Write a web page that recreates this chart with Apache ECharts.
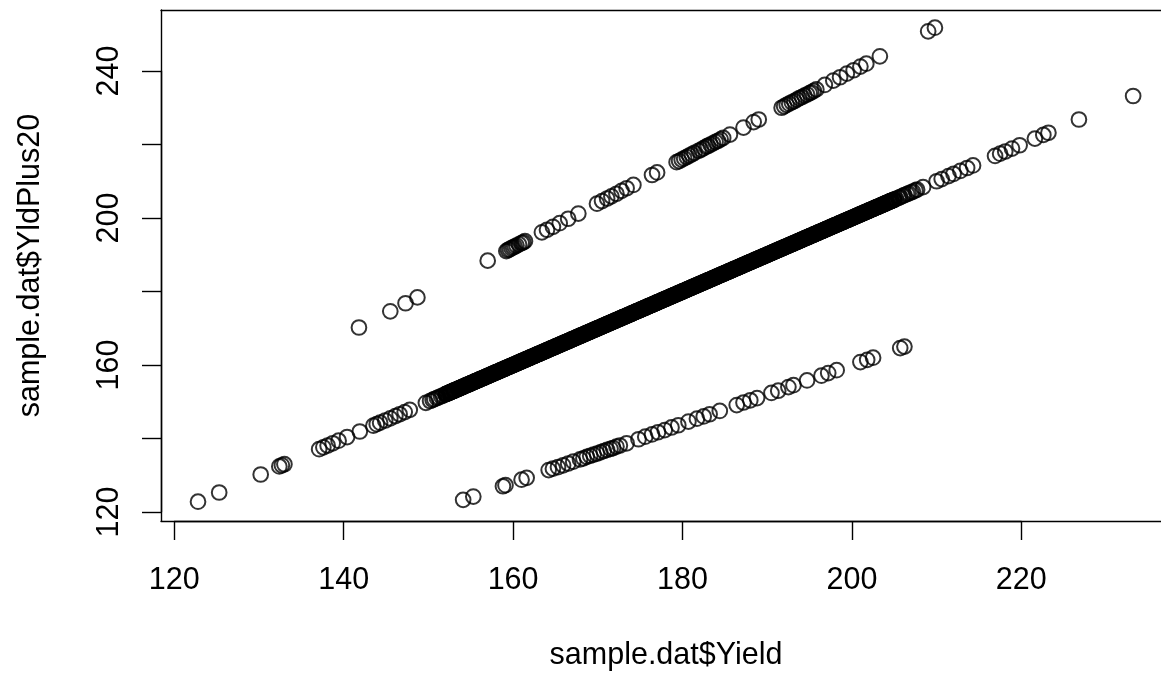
<!DOCTYPE html>
<html>
<head>
<meta charset="utf-8">
<script src="https://cdn.jsdelivr.net/npm/echarts@6/dist/echarts.min.js"></script>
<style>
html,body{margin:0;padding:0;background:#fff;}
#chart{width:1161px;height:676px;}
</style>
</head>
<body>
<div id="chart"></div>
<script>
// Upper band
const upperYield = [141.8,145.5,147.3,148.7,157.0,159.2,159.4,159.6,159.8,160.0,160.2,160.4,160.7,161.0,161.2,161.4,163.4,164.0,164.7,165.5,166.5,167.7,169.9,170.5,171.1,171.6,172.2,172.8,173.4,174.2,176.4,177.0,179.3,179.6,179.9,180.2,180.5,180.8,181.1,181.4,181.9,182.2,182.5,182.8,183.0,183.3,183.6,183.9,184.2,184.5,184.8,185.6,187.2,188.4,189.0,191.7,192.0,192.3,192.6,192.9,193.2,193.5,193.8,194.1,194.4,194.7,195.0,195.2,195.5,195.8,196.8,197.8,198.6,199.4,200.2,201.0,201.7,203.3,209.0,209.8];
const upperYldPlus20 = [170.2,174.6,176.8,178.4,188.4,191.0,191.3,191.5,191.8,192.0,192.2,192.5,192.8,193.2,193.4,193.7,196.1,196.8,197.6,198.6,199.8,201.2,203.9,204.6,205.3,205.9,206.6,207.4,208.1,209.0,211.7,212.4,215.2,215.5,215.9,216.2,216.6,217.0,217.3,217.7,218.3,218.6,219.0,219.4,219.6,220.0,220.3,220.7,221.0,221.4,221.8,222.7,224.6,226.1,226.8,230.0,230.4,230.8,231.1,231.5,231.8,232.2,232.6,232.9,233.3,233.6,234.0,234.2,234.6,235.0,236.2,237.4,238.3,239.3,240.2,241.2,242.0,244.0,250.8,251.8];

// Lower band
const lowerYield = [154.1,155.3,158.8,159.1,161.0,161.6,164.2,164.7,165.3,165.9,166.5,167.1,167.9,168.3,168.7,169.1,169.5,169.9,170.3,170.7,171.1,171.5,171.8,172.2,172.6,173.4,174.8,175.6,176.4,177.1,177.9,178.7,179.5,180.7,181.7,182.5,183.2,184.4,186.4,187.2,188.0,188.8,190.5,191.3,192.5,193.1,194.7,196.4,197.2,198.2,201.0,201.8,202.5,205.7,206.2];
const lowerYldPlus20 = [123.3,124.2,127.0,127.3,128.8,129.3,131.4,131.8,132.2,132.7,133.2,133.7,134.3,134.6,135.0,135.3,135.6,135.9,136.2,136.6,136.9,137.2,137.4,137.8,138.1,138.7,139.8,140.5,141.1,141.7,142.3,143.0,143.6,144.6,145.4,146.0,146.6,147.5,149.1,149.8,150.4,151.0,152.4,153.0,154.0,154.5,155.8,157.1,157.8,158.6,160.8,161.4,162.0,164.6,165.0];

// Middle band: sparse ends and first pass of the dense run
const midYield = [122.8,125.3,130.2,132.4,132.7,133.0,137.1,137.6,138.1,138.7,139.4,140.4,141.9,143.5,143.9,144.3,144.9,145.5,146.1,146.6,147.2,147.8,149.7,
150.2,150.5,150.7,151,151.2,151.5,151.7,
152,152.1,152.2,152.4,152.5,152.6,152.7,152.9,153,153.1,153.2,153.4,153.5,153.6,153.7,153.9,
154,154.1,154.2,154.4,154.5,154.6,154.7,154.9,155,155.1,155.2,155.4,155.5,155.6,155.7,155.9,
156,156.1,156.2,156.4,156.5,156.6,156.7,156.9,157,157.1,157.2,157.4,157.5,157.6,157.7,157.9,
158,158.1,158.2,158.4,158.5,158.6,158.7,158.9,159,159.1,159.2,159.4,159.5,159.6,159.7,159.9,
160,160.1,160.2,160.4,160.5,160.6,160.7,160.9,161,161.1,161.2,161.4,161.5,161.6,161.7,161.9,
162,162.1,162.2,162.4,162.5,162.6,162.7,162.9,163,163.1,163.2,163.4,163.5,163.6,163.7,163.9,
164,164.1,164.2,164.4,164.5,164.6,164.7,164.9,165,165.1,165.2,165.4,165.5,165.6,165.7,165.9,
166,166.1,166.2,166.4,166.5,166.6,166.7,166.9,167,167.1,167.2,167.4,167.5,167.6,167.7,167.9,
168,168.1,168.2,168.4,168.5,168.6,168.7,168.9,169,169.1,169.2,169.4,169.5,169.6,169.7,169.9,
170,170.1,170.2,170.4,170.5,170.6,170.7,170.9,171,171.1,171.2,171.4,171.5,171.6,171.7,171.9,
172,172.1,172.2,172.4,172.5,172.6,172.7,172.9,173,173.1,173.2,173.4,173.5,173.6,173.7,173.9,
174,174.1,174.2,174.4,174.5,174.6,174.7,174.9,175,175.1,175.2,175.4,175.5,175.6,175.7,175.9,
176,176.1,176.2,176.4,176.5,176.6,176.7,176.9,177,177.1,177.2,177.4,177.5,177.6,177.7,177.9,
178,178.1,178.2,178.4,178.5,178.6,178.7,178.9,179,179.1,179.2,179.4,179.5,179.6,179.7,179.9,
180,180.1,180.2,180.4,180.5,180.6,180.7,180.9,181,181.1,181.2,181.4,181.5,181.6,181.7,181.9,
182,182.1,182.2,182.4,182.5,182.6,182.7,182.9,183,183.1,183.2,183.4,183.5,183.6,183.7,183.9,
184,184.1,184.2,184.4,184.5,184.6,184.7,184.9,185,185.1,185.2,185.4,185.5,185.6,185.7,185.9,
186,186.1,186.2,186.4,186.5,186.6,186.7,186.9,187,187.1,187.2,187.4,187.5,187.6,187.7,187.9,
188,188.1,188.2,188.4,188.5,188.6,188.7,188.9,189,189.1,189.2,189.4,189.5,189.6,189.7,189.9,
190,190.1,190.2,190.4,190.5,190.6,190.7,190.9,191,191.1,191.2,191.4,191.5,191.6,191.7,191.9,
192,192.1,192.2,192.4,192.5,192.6,192.7,192.9,193,193.1,193.2,193.4,193.5,193.6,193.7,193.9,
194,194.1,194.2,194.4,194.5,194.6,194.7,194.9,195,195.1,195.2,195.4,195.5,195.6,195.7,195.9,
196,196.1,196.2,196.4,196.5,196.6,196.7,196.9,197,197.1,197.2,197.4,197.5,197.6,197.7,197.9,
198,198.1,198.2,198.4,198.5,198.6,198.7,198.9,199,199.1,199.2,199.4,199.5,199.6,199.7,199.9,
200,200.1,200.2,200.4,200.5,200.6,200.7,200.9,201,201.1,201.2,201.4,201.5,201.6,201.7,201.9,
202,202.1,202.2,202.4,202.5,202.6,202.7,202.9,203,203.1,203.2,203.4,203.5,203.6,203.7,203.9,
204,204.1,204.2,204.4,204.5,204.6,204.7,204.9,
205,205.2,205.5,205.7,206,206.2,206.5,206.7,207,207.2,207.5,207.7,
208.4,210.0,210.6,211.4,212.0,212.8,213.6,214.3,216.9,217.5,218.1,218.9,219.8,221.6,222.6,223.2,226.8,233.2];
const midYldPlus20 = [122.8,125.3,130.2,132.4,132.7,133.0,137.1,137.6,138.1,138.7,139.4,140.4,141.9,143.5,143.9,144.3,144.9,145.5,146.1,146.6,147.2,147.8,149.7,
150.2,150.5,150.7,151,151.2,151.5,151.7,
152,152.1,152.2,152.4,152.5,152.6,152.7,152.9,153,153.1,153.2,153.4,153.5,153.6,153.7,153.9,
154,154.1,154.2,154.4,154.5,154.6,154.7,154.9,155,155.1,155.2,155.4,155.5,155.6,155.7,155.9,
156,156.1,156.2,156.4,156.5,156.6,156.7,156.9,157,157.1,157.2,157.4,157.5,157.6,157.7,157.9,
158,158.1,158.2,158.4,158.5,158.6,158.7,158.9,159,159.1,159.2,159.4,159.5,159.6,159.7,159.9,
160,160.1,160.2,160.4,160.5,160.6,160.7,160.9,161,161.1,161.2,161.4,161.5,161.6,161.7,161.9,
162,162.1,162.2,162.4,162.5,162.6,162.7,162.9,163,163.1,163.2,163.4,163.5,163.6,163.7,163.9,
164,164.1,164.2,164.4,164.5,164.6,164.7,164.9,165,165.1,165.2,165.4,165.5,165.6,165.7,165.9,
166,166.1,166.2,166.4,166.5,166.6,166.7,166.9,167,167.1,167.2,167.4,167.5,167.6,167.7,167.9,
168,168.1,168.2,168.4,168.5,168.6,168.7,168.9,169,169.1,169.2,169.4,169.5,169.6,169.7,169.9,
170,170.1,170.2,170.4,170.5,170.6,170.7,170.9,171,171.1,171.2,171.4,171.5,171.6,171.7,171.9,
172,172.1,172.2,172.4,172.5,172.6,172.7,172.9,173,173.1,173.2,173.4,173.5,173.6,173.7,173.9,
174,174.1,174.2,174.4,174.5,174.6,174.7,174.9,175,175.1,175.2,175.4,175.5,175.6,175.7,175.9,
176,176.1,176.2,176.4,176.5,176.6,176.7,176.9,177,177.1,177.2,177.4,177.5,177.6,177.7,177.9,
178,178.1,178.2,178.4,178.5,178.6,178.7,178.9,179,179.1,179.2,179.4,179.5,179.6,179.7,179.9,
180,180.1,180.2,180.4,180.5,180.6,180.7,180.9,181,181.1,181.2,181.4,181.5,181.6,181.7,181.9,
182,182.1,182.2,182.4,182.5,182.6,182.7,182.9,183,183.1,183.2,183.4,183.5,183.6,183.7,183.9,
184,184.1,184.2,184.4,184.5,184.6,184.7,184.9,185,185.1,185.2,185.4,185.5,185.6,185.7,185.9,
186,186.1,186.2,186.4,186.5,186.6,186.7,186.9,187,187.1,187.2,187.4,187.5,187.6,187.7,187.9,
188,188.1,188.2,188.4,188.5,188.6,188.7,188.9,189,189.1,189.2,189.4,189.5,189.6,189.7,189.9,
190,190.1,190.2,190.4,190.5,190.6,190.7,190.9,191,191.1,191.2,191.4,191.5,191.6,191.7,191.9,
192,192.1,192.2,192.4,192.5,192.6,192.7,192.9,193,193.1,193.2,193.4,193.5,193.6,193.7,193.9,
194,194.1,194.2,194.4,194.5,194.6,194.7,194.9,195,195.1,195.2,195.4,195.5,195.6,195.7,195.9,
196,196.1,196.2,196.4,196.5,196.6,196.7,196.9,197,197.1,197.2,197.4,197.5,197.6,197.7,197.9,
198,198.1,198.2,198.4,198.5,198.6,198.7,198.9,199,199.1,199.2,199.4,199.5,199.6,199.7,199.9,
200,200.1,200.2,200.4,200.5,200.6,200.7,200.9,201,201.1,201.2,201.4,201.5,201.6,201.7,201.9,
202,202.1,202.2,202.4,202.5,202.6,202.7,202.9,203,203.1,203.2,203.4,203.5,203.6,203.7,203.9,
204,204.1,204.2,204.4,204.5,204.6,204.7,204.9,
205,205.2,205.5,205.7,206,206.2,206.5,206.7,207,207.2,207.5,207.7,
208.4,210.0,210.6,211.4,212.0,212.8,213.6,214.3,216.9,217.5,218.1,218.9,219.8,221.6,222.6,223.2,226.8,233.2];

// Middle band: further points inside the solid run
const midDenseYield = [
152.05,152.3,152.45,152.65,152.8,152.95,153.05,153.3,153.45,153.65,153.8,153.95,
154.05,154.3,154.45,154.65,154.8,154.95,155.05,155.3,155.45,155.65,155.8,155.95,
156.05,156.3,156.45,156.65,156.8,156.95,157.05,157.3,157.45,157.65,157.8,157.95,
158.05,158.3,158.45,158.65,158.8,158.95,159.05,159.3,159.45,159.65,159.8,159.95,
160.05,160.3,160.45,160.65,160.8,160.95,161.05,161.3,161.45,161.65,161.8,161.95,
162.05,162.3,162.45,162.65,162.8,162.95,163.05,163.3,163.45,163.65,163.8,163.95,
164.05,164.3,164.45,164.65,164.8,164.95,165.05,165.3,165.45,165.65,165.8,165.95,
166.05,166.3,166.45,166.65,166.8,166.95,167.05,167.3,167.45,167.65,167.8,167.95,
168.05,168.3,168.45,168.65,168.8,168.95,169.05,169.3,169.45,169.65,169.8,169.95,
170.05,170.3,170.45,170.65,170.8,170.95,171.05,171.3,171.45,171.65,171.8,171.95,
172.05,172.3,172.45,172.65,172.8,172.95,173.05,173.3,173.45,173.65,173.8,173.95,
174.05,174.3,174.45,174.65,174.8,174.95,175.05,175.3,175.45,175.65,175.8,175.95,
176.05,176.3,176.45,176.65,176.8,176.95,177.05,177.3,177.45,177.65,177.8,177.95,
178.05,178.3,178.45,178.65,178.8,178.95,179.05,179.3,179.45,179.65,179.8,179.95,
180.05,180.3,180.45,180.65,180.8,180.95,181.05,181.3,181.45,181.65,181.8,181.95,
182.05,182.3,182.45,182.65,182.8,182.95,183.05,183.3,183.45,183.65,183.8,183.95,
184.05,184.3,184.45,184.65,184.8,184.95,185.05,185.3,185.45,185.65,185.8,185.95,
186.05,186.3,186.45,186.65,186.8,186.95,187.05,187.3,187.45,187.65,187.8,187.95,
188.05,188.3,188.45,188.65,188.8,188.95,189.05,189.3,189.45,189.65,189.8,189.95,
190.05,190.3,190.45,190.65,190.8,190.95,191.05,191.3,191.45,191.65,191.8,191.95,
192.05,192.3,192.45,192.65,192.8,192.95,193.05,193.3,193.45,193.65,193.8,193.95,
194.05,194.3,194.45,194.65,194.8,194.95,195.05,195.3,195.45,195.65,195.8,195.95,
196.05,196.3,196.45,196.65,196.8,196.95,197.05,197.3,197.45,197.65,197.8,197.95,
198.05,198.3,198.45,198.65,198.8,198.95,199.05,199.3,199.45,199.65,199.8,199.95,
200.05,200.3,200.45,200.65,200.8,200.95,201.05,201.3,201.45,201.65,201.8,201.95,
202.05,202.3,202.45,202.65,202.8,202.95,203.05,203.3,203.45,203.65,203.8,203.95,
204.05,204.3,204.45,204.65,204.8,204.95];
const midDenseYldPlus20 = [
152.05,152.3,152.45,152.65,152.8,152.95,153.05,153.3,153.45,153.65,153.8,153.95,
154.05,154.3,154.45,154.65,154.8,154.95,155.05,155.3,155.45,155.65,155.8,155.95,
156.05,156.3,156.45,156.65,156.8,156.95,157.05,157.3,157.45,157.65,157.8,157.95,
158.05,158.3,158.45,158.65,158.8,158.95,159.05,159.3,159.45,159.65,159.8,159.95,
160.05,160.3,160.45,160.65,160.8,160.95,161.05,161.3,161.45,161.65,161.8,161.95,
162.05,162.3,162.45,162.65,162.8,162.95,163.05,163.3,163.45,163.65,163.8,163.95,
164.05,164.3,164.45,164.65,164.8,164.95,165.05,165.3,165.45,165.65,165.8,165.95,
166.05,166.3,166.45,166.65,166.8,166.95,167.05,167.3,167.45,167.65,167.8,167.95,
168.05,168.3,168.45,168.65,168.8,168.95,169.05,169.3,169.45,169.65,169.8,169.95,
170.05,170.3,170.45,170.65,170.8,170.95,171.05,171.3,171.45,171.65,171.8,171.95,
172.05,172.3,172.45,172.65,172.8,172.95,173.05,173.3,173.45,173.65,173.8,173.95,
174.05,174.3,174.45,174.65,174.8,174.95,175.05,175.3,175.45,175.65,175.8,175.95,
176.05,176.3,176.45,176.65,176.8,176.95,177.05,177.3,177.45,177.65,177.8,177.95,
178.05,178.3,178.45,178.65,178.8,178.95,179.05,179.3,179.45,179.65,179.8,179.95,
180.05,180.3,180.45,180.65,180.8,180.95,181.05,181.3,181.45,181.65,181.8,181.95,
182.05,182.3,182.45,182.65,182.8,182.95,183.05,183.3,183.45,183.65,183.8,183.95,
184.05,184.3,184.45,184.65,184.8,184.95,185.05,185.3,185.45,185.65,185.8,185.95,
186.05,186.3,186.45,186.65,186.8,186.95,187.05,187.3,187.45,187.65,187.8,187.95,
188.05,188.3,188.45,188.65,188.8,188.95,189.05,189.3,189.45,189.65,189.8,189.95,
190.05,190.3,190.45,190.65,190.8,190.95,191.05,191.3,191.45,191.65,191.8,191.95,
192.05,192.3,192.45,192.65,192.8,192.95,193.05,193.3,193.45,193.65,193.8,193.95,
194.05,194.3,194.45,194.65,194.8,194.95,195.05,195.3,195.45,195.65,195.8,195.95,
196.05,196.3,196.45,196.65,196.8,196.95,197.05,197.3,197.45,197.65,197.8,197.95,
198.05,198.3,198.45,198.65,198.8,198.95,199.05,199.3,199.45,199.65,199.8,199.95,
200.05,200.3,200.45,200.65,200.8,200.95,201.05,201.3,201.45,201.65,201.8,201.95,
202.05,202.3,202.45,202.65,202.8,202.95,203.05,203.3,203.45,203.65,203.8,203.95,
204.05,204.3,204.45,204.65,204.8,204.95];

const xTickMin = 120, xTickMax = 220, xTickStep = 20;
const yTickMin = 120, yTickMax = 240, yTickStep = 20;
const yTickLabels = ['120', '', '160', '', '200', '', '240'];
const xTitle = 'sample.dat$Yield';
const yTitle = 'sample.dat$YldPlus20';

function pairs(xs, ys) { return xs.map((v, i) => [v, ys[i]]); }

const FONT = 'Liberation Sans, Arial, Helvetica, sans-serif';
const FS = 30.5;
const LINE = { color: '#000', width: 1.4 };

function scatter(data) {
  return {
    type: 'scatter',
    xAxisIndex: 0, yAxisIndex: 0,
    data: data,
    symbol: 'circle',
    symbolSize: 14.7,
    large: false,
    progressive: 0,
    itemStyle: { color: 'rgba(0,0,0,0)', borderColor: '#000', borderWidth: 2 },
    emphasis: { disabled: true },
    silent: true,
    animation: false
  };
}

const hidden = {
  axisLine: { show: false }, axisTick: { show: false },
  axisLabel: { show: false }, splitLine: { show: false }
};
const lineOnly = {
  axisLine: { show: true, onZero: false, lineStyle: LINE }, axisTick: { show: false },
  axisLabel: { show: false }, splitLine: { show: false }
};

const chart = echarts.init(document.getElementById('chart'), null, { renderer: 'canvas' });
chart.setOption({
  backgroundColor: '#fff',
  animation: false,
  grid: [
    { left: 161, top: 10, width: 1000, height: 511 },
    { left: 174.3, top: 10, width: 847, height: 511 },
    { left: 161, top: 71, width: 1000, height: 441 }
  ],
  xAxis: [
    Object.assign({ type: 'value', gridIndex: 0, min: 118.43, max: 236.49, position: 'bottom' }, lineOnly),
    { type: 'value', gridIndex: 1, min: xTickMin, max: xTickMax, interval: xTickStep, position: 'bottom',
      axisLine: { show: true, onZero: false, lineStyle: LINE },
      axisTick: { show: true, inside: false, length: 19, lineStyle: LINE },
      axisLabel: { show: true, color: '#000', fontSize: FS, fontFamily: FONT, margin: 44 },
      splitLine: { show: false } },
    Object.assign({ type: 'value', gridIndex: 2, min: 0, max: 1 }, hidden),
    Object.assign({ type: 'value', gridIndex: 0, min: 118.43, max: 236.49, position: 'top' }, lineOnly)
  ],
  yAxis: [
    Object.assign({ type: 'value', gridIndex: 0, min: 117.55, max: 256.6, position: 'left' }, lineOnly),
    Object.assign({ type: 'value', gridIndex: 1, min: 0, max: 1 }, hidden),
    { type: 'value', gridIndex: 2, min: yTickMin, max: yTickMax, interval: yTickStep, position: 'left',
      axisLine: { show: true, onZero: false, lineStyle: LINE },
      axisTick: { show: true, inside: false, length: 19, lineStyle: LINE },
      axisLabel: { show: true, color: '#000', fontSize: FS, fontFamily: FONT, margin: 36, rotate: 90,
        formatter: (v, i) => yTickLabels[i] },
      splitLine: { show: false } }
  ],
  graphic: [
    { type: 'text', x: 666, y: 656, silent: true,
      style: { text: xTitle, font: FS + 'px ' + FONT, fill: '#000', textAlign: 'center', textVerticalAlign: 'middle' } },
    { type: 'text', x: 31, y: 265.5, rotation: Math.PI / 2, silent: true,
      style: { text: yTitle, font: FS + 'px ' + FONT, fill: '#000', textAlign: 'center', textVerticalAlign: 'middle' } }
  ],
  series: [
    scatter(pairs(midYield, midYldPlus20)),
    scatter(pairs(midDenseYield, midDenseYldPlus20)),
    scatter(pairs(upperYield, upperYldPlus20)),
    scatter(pairs(lowerYield, lowerYldPlus20))
  ]
});
</script>
</body>
</html>
